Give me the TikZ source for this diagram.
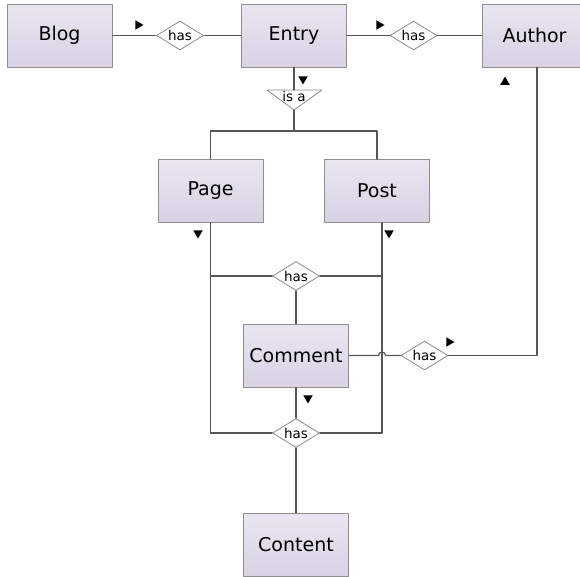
\documentclass[tikz,border=0pt]{standalone}
\usepackage{fontspec}
\setmainfont{DejaVu Sans}
\usetikzlibrary{arrows,shapes.geometric}
\definecolor{boxtop}{HTML}{E9E6F1}
\definecolor{boxbot}{HTML}{D8D2E3}
\definecolor{boxline}{HTML}{8F8F8F}
\definecolor{relline}{HTML}{8A8A8A}
\definecolor{linkgray}{HTML}{555555}
\tikzset{
  entity/.style={rectangle,draw=boxline,line width=0.8pt,top color=boxtop,bottom color=boxbot,
    minimum width=105pt,minimum height=63pt,inner sep=0pt,font=\fontsize{19}{22}\selectfont},
  relation/.style={diamond,draw=relline,line width=0.8pt,fill=white,minimum width=47pt,
    minimum height=29pt,inner sep=0pt,shape aspect=1.6,font=\fontsize{13.5}{15}\selectfont},
  rolemark/.style={regular polygon,regular polygon sides=3,fill=black,inner sep=0pt,minimum size=11pt},
  link/.style={line width=1.2pt,color=linkgray}
}
\begin{document}
\begin{tikzpicture}[line cap=round,line join=round,x=1pt,y=-1pt]
\useasboundingbox (0,0) rectangle (580,576);
% entities
\node[entity] (blog) at (59.5,35.5) {Blog};
\node[entity] (entry) at (294,35.5) {Entry};
\node[entity] (author) at (534.5,35.5) {Author};
\node[entity] (page) at (210.5,191) {Page};
\node[entity] (post) at (377,191) {Post};
\node[entity] (comment) at (296,355.5) {Comment};
\node[entity] (content) at (296,544.5) {Content};
% relations
\node[relation] (hasblog) at (180,35.5) {has};
\node[relation] (hasauthor) at (413.5,35.5) {has};
\node[relation] (hascomment) at (296,276) {has};
\node[relation] (hascommentauthor) at (424.5,355.5) {has};
\node[relation] (hascontent) at (296,433) {has};
% is a
\coordinate (isatop) at (294,90);
\coordinate (isatip) at (294,110);
\coordinate (split) at (294,131);
\filldraw [draw=relline,line width=0.8pt,fill=white] (267,90) -- (322,90) -- (isatip) -- cycle;
\node[font=\fontsize{13.5}{15}\selectfont,inner sep=0pt] (isa) at (294,96.5) {is a};
% links
\draw [link] (blog) -- (hasblog) -- (entry);
\draw [link] (entry) -- (hasauthor) -- (author);
\draw [link] (entry.south) -- (isatop);
\draw [link] (isatip) -- (split);
\draw [link] (page.north) |- (split) -| (post.north);
\draw [link] (page.south) |- (hascomment.west);
\draw [link] ([xshift=5pt]post.south) |- (hascomment.east);
\draw [link] (page.south) |- (hascontent.west);
\draw [link] ([xshift=5pt]post.south) |- (hascontent.east);
\draw [link] (hascomment) -- (comment);
\draw [link] (comment) -- (hascontent);
\draw [link] (hascontent) -- (content);
\draw [link] (comment.east) -- (378.5,355.5) arc[start angle=180,end angle=0,radius=3.5pt] -- (hascommentauthor.west);
\draw [link] (hascommentauthor.east) -| ([xshift=2.5pt]author.south);
% role markers
\node[rolemark,rotate=-90] (mblog) at (138,25) {};
\node[rolemark,rotate=-90] (mentry) at (379,25) {};
\node[rolemark,rotate=180] (misa) at (303,79) {};
\node[rolemark] (mauthor) at (505,82) {};
\node[rolemark,rotate=180] (mpage) at (198,233) {};
\node[rolemark,rotate=180] (mpost) at (389,233) {};
\node[rolemark,rotate=-90] (mcomment) at (449,342) {};
\node[rolemark,rotate=180] (mcontent) at (308,398) {};
\end{tikzpicture}
\end{document}
